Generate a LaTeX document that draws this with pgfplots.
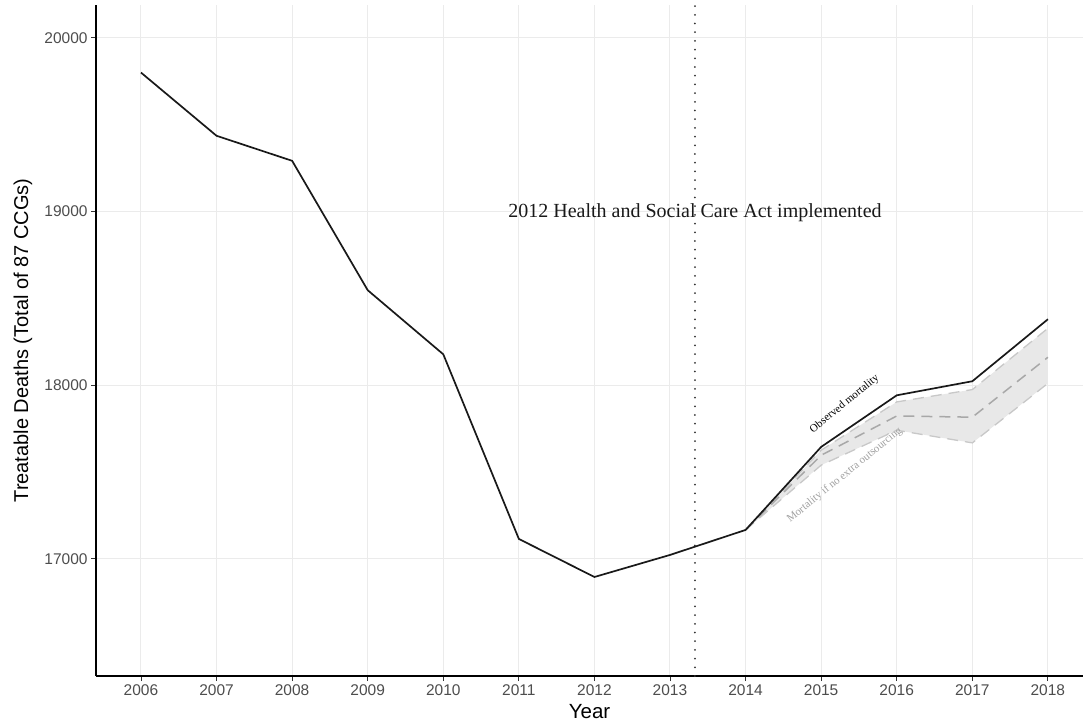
\documentclass[border=0pt]{standalone}
\usepackage{fontspec}
\setmainfont{Liberation Serif}
\setsansfont{Liberation Sans}
\usepackage{pgfplots}
\pgfplotsset{compat=1.18}

\definecolor{gridgrey}{HTML}{EBEBEB}
\definecolor{tickgrey}{HTML}{333333}
\definecolor{labelgrey}{HTML}{4D4D4D}
\definecolor{ribbonfill}{HTML}{E8E8E8}
\definecolor{ribbonedge}{HTML}{C8C8C8}
\definecolor{cfline}{HTML}{A8A8A8}
\definecolor{cftext}{HTML}{A0A0A0}

\begin{document}
\begin{tikzpicture}
\useasboundingbox (-96bp,-52bp) rectangle (987bp,676bp);
\begin{axis}[
  scale only axis, width=987bp, height=671bp,
  xmin=2005.405, xmax=2018.464, ymin=16326, ymax=20189,
  axis x line*=bottom, axis y line*=left,
  axis line style={-, line width=1.1bp, black},
  xtick={2006,...,2018}, ytick={17000,18000,19000,20000},
  scaled ticks=false,
  /pgf/number format/assume math mode=true,
  /pgf/number format/1000 sep={},
  tick label style={font=\sffamily\fontsize{15.5bp}{15.5bp}\selectfont, text=labelgrey},
  tick align=outside, major tick length=5bp,
  every tick/.style={tickgrey, line width=0.9bp},
  grid=major, grid style={gridgrey, line width=1bp},
  xlabel={Year}, ylabel={Treatable Deaths (Total of 87 CCGs)},
  xlabel style={font=\sffamily\fontsize{20.5bp}{20.5bp}\selectfont, text=black,
    at={(axis description cs:0.5,-0.0537)}, anchor=center},
  ylabel style={font=\sffamily\fontsize{20bp}{20bp}\selectfont, text=black,
    at={(axis description cs:-0.074,0.5)}, anchor=center},
  clip=false,
]
% uncertainty band of the counterfactual (no extra outsourcing)
\addplot[fill=ribbonfill, draw=none] coordinates {
  (2014,17167) (2015,17626) (2016,17904) (2017,17975) (2018,18328)
  (2018,18011) (2017,17668) (2016,17741) (2015,17540) (2014,17167)
} -- cycle;
\addplot[ribbonedge, line width=1.3bp, dash pattern=on 11bp off 7bp] coordinates {
  (2014,17167) (2015,17626) (2016,17904) (2017,17975) (2018,18328)};
\addplot[ribbonedge, line width=1.3bp, dash pattern=on 11bp off 7bp] coordinates {
  (2014,17167) (2015,17540) (2016,17741) (2017,17668) (2018,18011)};
\addplot[cfline, line width=1.5bp, dash pattern=on 11bp off 7bp] coordinates {
  (2014,17167) (2015,17597) (2016,17823) (2017,17816) (2018,18161)};
% observed mortality
\addplot[black!90, line width=1.7bp] coordinates {
  (2006,19800) (2007,19436) (2008,19292) (2009,18547) (2010,18178)
  (2011,17115) (2012,16896) (2013,17023) (2014,17167) (2015,17645)
  (2016,17942) (2017,18023) (2018,18380)};
% policy implementation date
\addplot[tickgrey, line width=2bp, line cap=round, dash pattern=on 0bp off 8.7bp] coordinates {
  (2013.33,16326) (2013.33,20189)};
\node[font=\fontsize{20bp}{20bp}\selectfont, text=black!90] at (axis cs:2013.33,18995)
  {2012 Health and Social Care Act implemented};
\node[rotate=39, font=\fontsize{11bp}{11bp}\selectfont, text=black] at (axis cs:2015.31,17891)
  {Observed mortality};
\node[rotate=39, font=\fontsize{11bp}{11bp}\selectfont, text=cftext] at (axis cs:2015.31,17482)
  {Mortality if no extra outsourcing};
\end{axis}
\end{tikzpicture}
\end{document}
